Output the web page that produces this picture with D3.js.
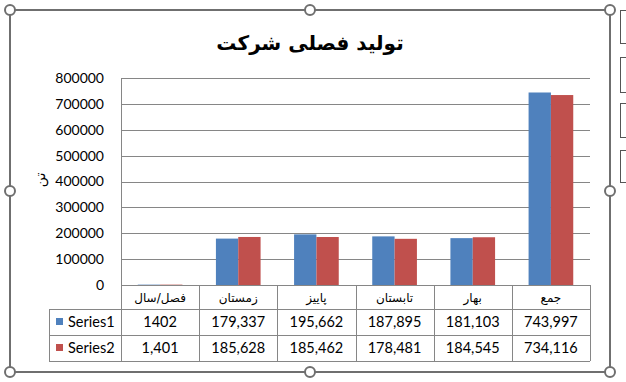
<!DOCTYPE html>
<html><head><meta charset="utf-8">
<script src="https://cdn.jsdelivr.net/npm/d3@7"></script>
<style>body{margin:0;background:#fff}svg{display:block}</style>
</head><body>
<script>
const categories = ["فصل/سال", "زمستان", "پاییز", "تابستان", "بهار", "جمع"];
const series1 = [1402, 179337, 195662, 187895, 181103, 743997];
const series2 = [1401, 185628, 185462, 178481, 184545, 734116];
const series1Labels = ["1402", "179,337", "195,662", "187,895", "181,103", "743,997"];
const series2Labels = ["1,401", "185,628", "185,462", "178,481", "184,545", "734,116"];
const seriesNames = ["Series1", "Series2"];
const yTicks = [0, 100000, 200000, 300000, 400000, 500000, 600000, 700000, 800000];
const title = "تولید فصلی شرکت";
const yTitle = "تن";

const W = 626, H = 382;
const colors = ["#4F81BD", "#C0504D"];
const grid = "#868686";
const svg = d3.select("body").append("svg").attr("width", W).attr("height", H);

const x = d3.scaleBand().domain(categories).range([121, 590]).padding(0);
const y = d3.scaleLinear().domain([0, 800000]).range([285, 78]);
const bw = x.bandwidth();
const barW = bw / 3.5;
const sub = d3.scaleBand().domain([0, 1]).range([bw * 0.75 / 3.5, bw * 0.75 / 3.5 + 2 * barW]);

// title
svg.append("text").attr("x", 310).attr("y", 50).attr("text-anchor", "middle")
  .attr("font-family", "DejaVu Sans, sans-serif").attr("font-weight", "bold").attr("font-size", 20)
  .attr("direction", "rtl").text(title);

// gridlines
svg.append("g").selectAll("line").data(yTicks.filter(d => d > 0)).join("line")
  .attr("x1", 121).attr("x2", 590)
  .attr("y1", d => Math.round(y(d)) + 0.5).attr("y2", d => Math.round(y(d)) + 0.5)
  .attr("stroke", grid).attr("stroke-width", 1);

// axes lines
svg.append("line").attr("x1", 121.5).attr("x2", 121.5).attr("y1", 78).attr("y2", 361).attr("stroke", grid);
svg.append("line").attr("x1", 121).attr("x2", 590).attr("y1", 285.5).attr("y2", 285.5).attr("stroke", grid);

// y axis labels
const yAxis = d3.axisLeft(y).tickValues(yTicks).tickSize(0).tickPadding(0).tickFormat(d3.format("d"));
const gy = svg.append("g").attr("transform", "translate(104,0)").call(yAxis);
gy.select(".domain").remove();
gy.selectAll("text").attr("font-family", "Lato, sans-serif").attr("font-size", 14).attr("fill", "#000");

// y axis title
svg.append("text").attr("transform", "translate(45,180) rotate(-90)").attr("text-anchor", "middle")
  .attr("font-family", "DejaVu Sans, sans-serif").attr("font-size", 14).attr("direction", "rtl").text(yTitle);

// bars
const data = categories.map((c, i) => ({c, v: [series1[i], series2[i]]}));
const gBars = svg.append("g").selectAll("g").data(data).join("g")
  .attr("transform", d => `translate(${x(d.c)},0)`);
gBars.selectAll("rect").data(d => d.v.map((v, s) => ({v, s}))).join("rect")
  .attr("x", d => sub(d.s)).attr("width", sub.bandwidth())
  .attr("y", d => y(d.v)).attr("height", d => y(0) - y(d.v))
  .attr("fill", d => colors[d.s]);

// data table
const rowY = [285, 309, 335, 361];
const tg = svg.append("g");
categories.forEach((c, i) => {
  const xr = Math.round(x(c) + bw) + 0.5;
  tg.append("line").attr("x1", xr).attr("x2", xr).attr("y1", 285).attr("y2", 361).attr("stroke", grid);
});
[309, 335, 361].forEach(yy => {
  tg.append("line").attr("x1", 49).attr("x2", 590).attr("y1", yy + 0.5).attr("y2", yy + 0.5).attr("stroke", grid);
});
tg.append("line").attr("x1", 49.5).attr("x2", 49.5).attr("y1", 309).attr("y2", 361).attr("stroke", grid);

tg.selectAll("text.cat").data(categories).join("text").attr("class", "cat")
  .attr("x", d => x(d) + bw / 2).attr("y", 302).attr("text-anchor", "middle")
  .attr("font-family", "DejaVu Sans, sans-serif").attr("font-size", 12).attr("direction", "rtl")
  .text(d => d);

[series1Labels, series2Labels].forEach((labels, s) => {
  tg.selectAll("text.v" + s).data(labels).join("text").attr("class", "v" + s)
    .attr("x", (d, i) => x(categories[i]) + bw / 2).attr("y", rowY[s + 1] + 18)
    .attr("text-anchor", "middle").attr("font-family", "Lato, sans-serif").attr("font-size", 14.5)
    .text(d => d);
  tg.append("rect").attr("x", 56).attr("y", rowY[s + 1] + 9).attr("width", 7).attr("height", 7).attr("fill", colors[s]);
  tg.append("text").attr("x", 68).attr("y", rowY[s + 1] + 18).attr("font-family", "Lato, sans-serif")
    .attr("font-size", 14.5).text(seriesNames[s]);
});

// selection frame
const fc = "#6f6f6f";
svg.append("rect").attr("x", 10).attr("y", 10).attr("width", 600).attr("height", 362)
  .attr("fill", "none").attr("stroke", fc).attr("stroke-width", 2);
const handles = [[10,10],[310,10],[610,10],[10,191],[610,191],[10,372],[310,372],[610,372]];
svg.selectAll("circle.h").data(handles).join("circle").attr("class", "h")
  .attr("cx", d => d[0]).attr("cy", d => d[1]).attr("r", 5)
  .attr("fill", "#fff").attr("stroke", fc).attr("stroke-width", 2);

// side buttons (partially visible)
const btns = [[10,43],[57,92],[103,137],[150,182]];
svg.selectAll("rect.b").data(btns).join("rect").attr("class", "b")
  .attr("x", 620.5).attr("y", d => d[0] + 0.5).attr("width", 20).attr("height", d => d[1] - d[0])
  .attr("fill", "#fff").attr("stroke", "#555");
</script>
</body></html>
